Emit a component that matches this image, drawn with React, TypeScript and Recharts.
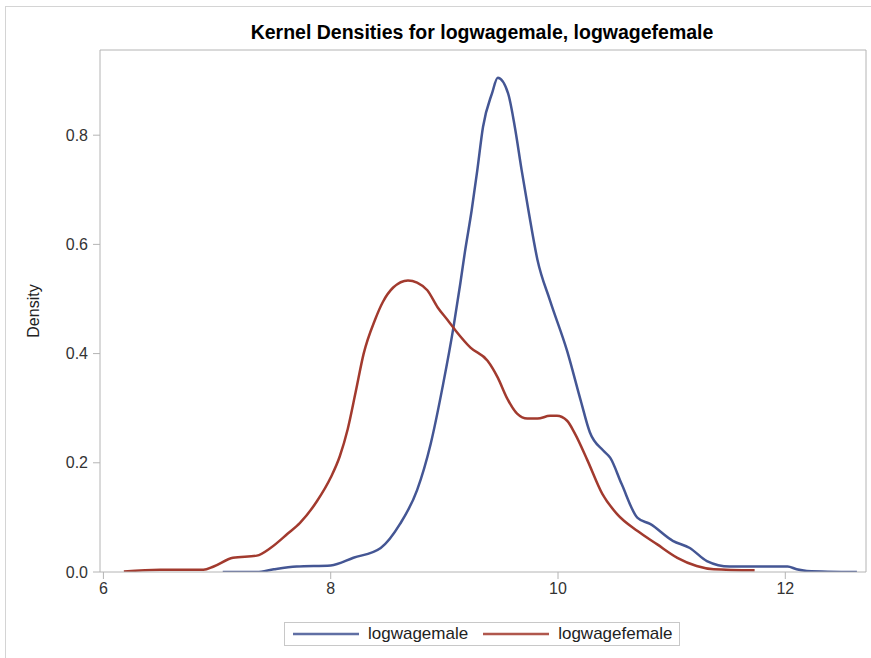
import React from 'react';
import { LineChart, Line, XAxis, YAxis, Legend, ReferenceLine } from 'recharts';

const maleX = [7.05, 7.35, 7.5, 7.7, 8.0, 8.2, 8.44, 8.61, 8.76, 8.88, 8.99, 9.08, 9.14, 9.18, 9.24, 9.29, 9.34, 9.42, 9.47, 9.56, 9.62, 9.68, 9.74, 9.82, 9.93, 10.08, 10.2, 10.28, 10.4, 10.46, 10.56, 10.7, 10.81, 11.01, 11.16, 11.31, 11.51, 12.02, 12.1, 12.19, 12.63];
const maleDensity = [0, 0, 0.005, 0.01, 0.012, 0.026, 0.044, 0.088, 0.15, 0.235, 0.345, 0.448, 0.528, 0.585, 0.662, 0.736, 0.815, 0.877, 0.905, 0.877, 0.815, 0.736, 0.662, 0.571, 0.497, 0.405, 0.314, 0.256, 0.222, 0.209, 0.161, 0.099, 0.088, 0.057, 0.044, 0.02, 0.01, 0.01, 0.005, 0.002, 0];

const femaleX = [6.18, 6.5, 6.88, 6.97, 7.14, 7.35, 7.47, 7.62, 7.73, 7.88, 8.0, 8.08, 8.15, 8.22, 8.29, 8.39, 8.46, 8.55, 8.68, 8.76, 8.85, 8.94, 9.03, 9.1, 9.23, 9.38, 9.47, 9.55, 9.64, 9.73, 9.82, 9.93, 9.99, 10.08, 10.15, 10.26, 10.39, 10.52, 10.7, 10.87, 11.05, 11.22, 11.37, 11.73];
const femaleDensity = [0.001, 0.004, 0.004, 0.01, 0.026, 0.03, 0.044, 0.07, 0.09, 0.13, 0.173, 0.212, 0.262, 0.33, 0.4, 0.462, 0.495, 0.521, 0.534, 0.53, 0.516, 0.485, 0.461, 0.442, 0.411, 0.387, 0.356, 0.319, 0.29, 0.281, 0.281, 0.286, 0.286, 0.277, 0.253, 0.204, 0.143, 0.106, 0.075, 0.051, 0.026, 0.011, 0.005, 0.003];

const xTicks = [6, 8, 10, 12];
const yTicks = [0, 0.2, 0.4, 0.6, 0.8];
const xDomain = [5.97, 12.71];
const yDomain = [0, 0.956];

const MALE_COLOR = '#445694';
const FEMALE_COLOR = '#A23A2E';
const AXIS_COLOR = '#b4b4b4';
const FONT = '"Liberation Sans", Arial, sans-serif';

const maleData = maleX.map((x, i) => ({ x, y: maleDensity[i] }));
const femaleData = femaleX.map((x, i) => ({ x, y: femaleDensity[i] }));

function LegendBox() {
  const item = (color: string, label: string, gapAfter: number) => (
    <div style={{ display: 'flex', alignItems: 'center', marginRight: gapAfter }}>
      <svg width={66} height={6} style={{ marginRight: 9 }}>
        <line x1={0} y1={3} x2={66} y2={3} stroke={color} strokeWidth={2.5} strokeOpacity={0.85} />
      </svg>
      <span>{label}</span>
    </div>
  );
  return (
    <div
      style={{
        display: 'flex',
        alignItems: 'center',
        boxSizing: 'border-box',
        border: '1px solid #c8c8c8',
        width: 396,
        height: 24,
        padding: '0 0 0 8px',
        fontFamily: FONT,
        fontSize: 17,
        color: '#222',
      }}
    >
      {item(MALE_COLOR, 'logwagemale', 15)}
      {item(FEMALE_COLOR, 'logwagefemale', 0)}
    </div>
  );
}

export default function App() {
  return (
    <div style={{ position: 'absolute', left: 0, top: 0, width: 871, height: 658, background: '#fff', fontFamily: FONT }}>
      <div style={{ position: 'absolute', left: 5, top: 6, right: 0, bottom: 0, borderTop: '1px solid #d4d4d4', borderLeft: '1px solid #d4d4d4' }} />
      <div style={{ position: 'absolute', top: 21, left: 0, width: 964, textAlign: 'center', fontSize: 19.5, fontWeight: 'bold', color: '#000' }}>
        Kernel Densities for logwagemale, logwagefemale
      </div>
      <LineChart width={871} height={658} margin={{ top: 50, right: 5, bottom: 46, left: 0 }}>
        <XAxis
          type="number"
          dataKey="x"
          domain={xDomain}
          ticks={xTicks}
          allowDataOverflow
          height={40}
          tickSize={7}
          tickMargin={4}
          stroke={AXIS_COLOR}
          tick={{ fill: '#333', fontSize: 16, fontFamily: FONT }}
        />
        <YAxis
          type="number"
          domain={yDomain}
          ticks={yTicks}
          allowDataOverflow
          width={100}
          tickSize={7}
          tickMargin={5}
          stroke={AXIS_COLOR}
          tickFormatter={(v: number) => v.toFixed(1)}
          tick={{ fill: '#333', fontSize: 16, fontFamily: FONT }}
          label={{ value: 'Density', angle: -90, position: 'center', dx: -17, style: { fontSize: 16, fill: '#222', fontFamily: FONT } }}
        />
        <ReferenceLine y={yDomain[1]} stroke={AXIS_COLOR} />
        <ReferenceLine x={xDomain[1]} stroke={AXIS_COLOR} />
        <Line data={maleData} dataKey="y" type="monotone" stroke={MALE_COLOR} strokeWidth={2.5} dot={false} isAnimationActive={false} name="logwagemale" />
        <Line data={femaleData} dataKey="y" type="monotone" stroke={FEMALE_COLOR} strokeWidth={2.5} dot={false} isAnimationActive={false} name="logwagefemale" />
        <Legend layout="horizontal" verticalAlign="middle" align="center" wrapperStyle={{ top: 622, left: 284, width: 'auto' }} content={() => <LegendBox />} />
      </LineChart>
    </div>
  );
}
